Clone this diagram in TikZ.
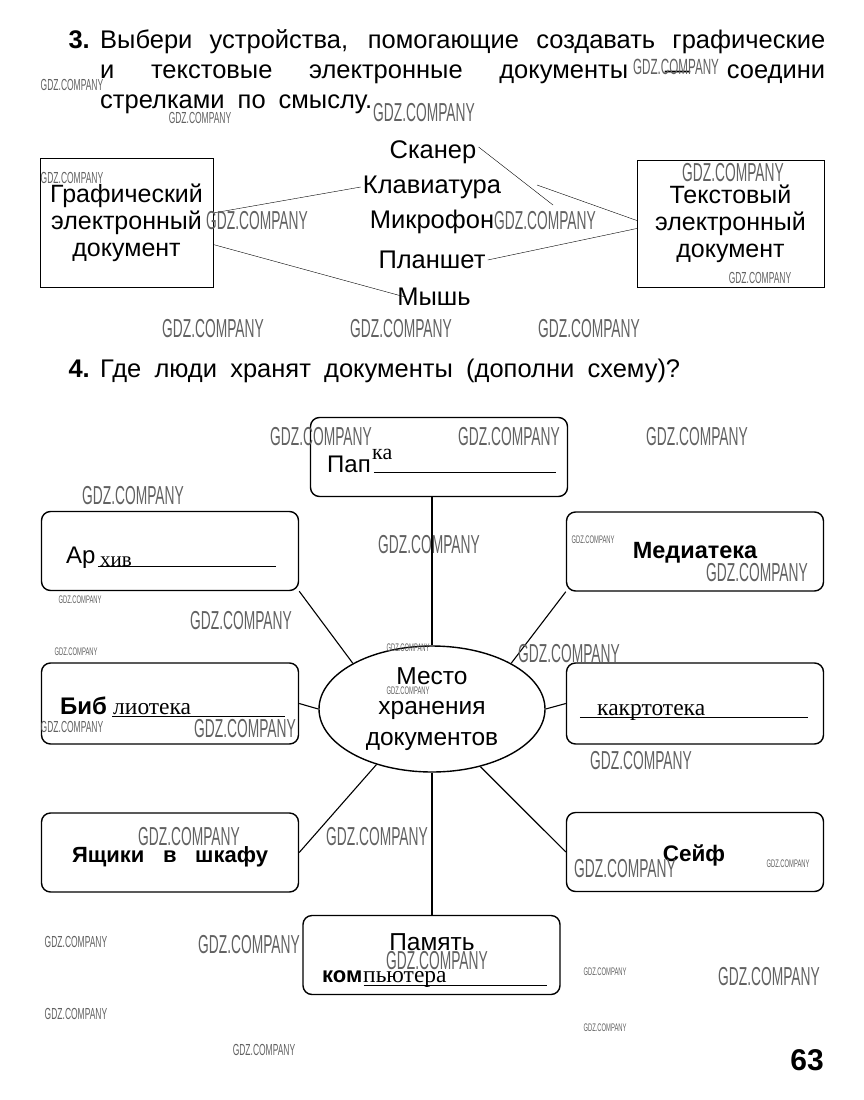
\documentclass[tikz,border=0pt]{standalone}
\usepackage{fontspec}
\setmainfont{Liberation Sans}
\newfontfamily\handfont{Liberation Serif}
\usetikzlibrary{shapes.geometric}

\newcommand{\gdz}{\scalebox{.53}[1]{GDZ.COMPANY}}

\begin{document}
\begin{tikzpicture}[x=1pt, y=-1pt,
  title/.style={font=\fontsize{25.5}{25.5}\selectfont, inner sep=0pt},
  word/.style={font=\fontsize{25.5}{25.5}\selectfont, inner sep=2pt},
  docbox/.style={draw, thin, align=center, font=\fontsize{25}{27}\selectfont},
  place/.style={draw, line width=1.4pt, rounded corners=9pt, minimum width=257pt, minimum height=79pt},
  label/.style={font=\fontsize{24}{24}\selectfont, inner sep=0pt},
  hand/.style={font=\handfont\fontsize{23.5}{23.5}\selectfont, inner sep=0pt},
  wmbig/.style={font=\fontsize{26}{26}\selectfont, text=black!62, inner sep=0pt},
  wmmid/.style={font=\fontsize{22}{22}\selectfont, text=black!62, inner sep=0pt},
  wmsmall/.style={font=\fontsize{16}{16}\selectfont, text=black!62, inner sep=0pt},
  wmtiny/.style={font=\fontsize{11}{11}\selectfont, text=black!62, inner sep=0pt}]
\useasboundingbox (0,0) rectangle (863,1100);

% task 3
\node[title, font=\fontsize{25.5}{25.5}\selectfont\bfseries, anchor=base east] (n3) at (90,48) {3.};
\node[title, anchor=base west] (t1) at (100,48) {\makebox[725pt][s]{Выбери устройства, помогающие создавать графические}};
\node[title, anchor=base west] (t2) at (100,78) {\makebox[725pt][s]{и текстовые электронные документы — соедини}};
\node[title, anchor=base west] (t3) at (100,108) {\makebox[272pt][s]{стрелками по смыслу.}};

\node[docbox, minimum width=173pt, minimum height=129pt] (graf) at (126.5,222.5) {Графический\\электронный\\документ};
\node[docbox, minimum width=187pt, minimum height=127pt] (text) at (730.5,223.5) {Текстовый\\электронный\\документ};

\node[word] (scan) at (433,152) {Сканер};
\node[word] (klav) at (432,187) {Клавиатура};
\node[word] (mikro) at (432,222) {Микрофон};
\node[word] (plan) at (432,260) {Планшет};
\node[word] (mysh) at (434,297) {Мышь};

\coordinate (s1) at (553,205);
\coordinate (s2) at (537,185);
\draw ([yshift=9.5pt]graf.east) -- (klav.west);
\draw ([yshift=-22pt]graf.east) -- ([xshift=10pt]mysh.west);
\draw (plan.east) -- ([yshift=-5pt]text.west);
\draw ([yshift=5pt]scan.east) -- (s1);
\draw ([yshift=3pt]text.west) -- (s2);

% task 4
\node[title, font=\fontsize{25.5}{25.5}\selectfont\bfseries, anchor=base east] (n4) at (90,377) {4.};
\node[title, anchor=base west] (t4) at (100,377) {\makebox[580pt][s]{Где люди хранят документы (дополни схему)?}};

\node[draw, line width=1.4pt, ellipse, minimum width=226pt, minimum height=126pt, inner sep=0pt,
  align=center, font=\fontsize{24.5}{30.5}\selectfont] (mesto) at (432,709) {Место\\хранения\\документов};

\node[place] (papka) at (439,457) {};
\node[place] (arch) at (170,551) {};
\node[place] (media) at (695,551.5) {};
\node[place, minimum height=81pt] (bibl) at (170,703.5) {};
\node[place, minimum height=81pt] (kart) at (695,703.5) {};
\node[place] (yash) at (170,852.5) {};
\node[place] (seif) at (695,852) {};
\node[place] (pamyat) at (431.5,955) {};

\draw[line width=1.1pt] (mesto.north) -- (mesto.north |- papka.south);
\draw[line width=1.1pt] (mesto.150) -- (arch.south east);
\draw[line width=1.1pt] (mesto.30) -- (media.south west);
\draw[line width=1.1pt] (mesto.west) -- (bibl.east);
\draw[line width=1.1pt] (mesto.east) -- (kart.west);
\draw[line width=1.1pt] (mesto.225) -- (yash.east);
\draw[line width=1.1pt] (mesto.310) -- (seif.west);
\draw[line width=1.1pt] (mesto.south) -- (mesto.south |- pamyat.north);

% box texts
\node[label, anchor=base west] (pap) at (327,472) {Пап};
\draw[thick] (pap.base east) ++(3,0) -- ++(182,0);
\node[hand, anchor=base west, font=\handfont\fontsize{22}{22}\selectfont] (ka) at (372,459) {ка};

\node[label, anchor=base west] (ar) at (66,563) {Ар};
\draw[thick] (ar.base east) ++(2,3) -- ++(178,0);
\node[hand, anchor=base west, font=\handfont\fontsize{21}{21}\selectfont] (hiv) at (100,566) {хив};

\node[label, font=\fontsize{23.5}{23.5}\selectfont\bfseries] (med) at (695,553) {Медиатека};

\node[label, font=\fontsize{24}{24}\selectfont\bfseries, anchor=base west] (bib) at (60,714) {Биб};
\draw[thick] (bib.base east) ++(5,2) -- ++(173,0);
\node[hand, anchor=base west] (lio) at (113,714) {лиотека};

\draw[thick] (kart.west) ++(14,13.5) -- ++(228,0);
\node[hand, anchor=base west] (kak) at (597,715) {какртотека};

\node[label, font=\fontsize{22}{22}\selectfont\bfseries] (yas) at (170,857) {\makebox[196pt][s]{Ящики в шкафу}};
\node[label, font=\fontsize{22.5}{22.5}\selectfont\bfseries] (sei) at (694,855) {Сейф};

\node[label, font=\fontsize{24.5}{24.5}\selectfont] (pam) at (432,942) {Память};
\node[label, font=\fontsize{22}{22}\selectfont\bfseries, anchor=base west] (kom) at (322,982) {ком};
\draw[thick] (kom.base east) ++(1,3) -- ++(183,0);
\node[hand, anchor=base west] (pju) at (363,982) {пьютера};

\node[title, font=\fontsize{30}{30}\selectfont\bfseries] (page) at (807,1060) {63};

% watermarks
\node[wmmid] (w1) at (676,67) {\gdz};
\node[wmsmall] (w2) at (72,85) {\gdz};
\node[wmbig] (w3) at (424,113) {\gdz};
\node[wmsmall] (w4) at (200,118) {\gdz};
\node[wmsmall] (w5) at (72,178) {\gdz};
\node[wmbig] (w6) at (257,221) {\gdz};
\node[wmbig] (w7) at (545,221) {\gdz};
\node[wmbig] (w8) at (733,173) {\gdz};
\node[wmsmall] (w9) at (760,278) {\gdz};
\node[wmbig] (w10) at (213,329) {\gdz};
\node[wmbig] (w11) at (401,329) {\gdz};
\node[wmbig] (w12) at (589,329) {\gdz};
\node[wmbig] (w13) at (321,437) {\gdz};
\node[wmbig] (w14) at (509,437) {\gdz};
\node[wmbig] (w15) at (697,437) {\gdz};
\node[wmbig] (w16) at (133,496) {\gdz};
\node[wmbig] (w17) at (429,545) {\gdz};
\node[wmtiny] (w18) at (593,540) {\gdz};
\node[wmbig] (w19) at (757,573) {\gdz};
\node[wmtiny] (w20) at (80,600) {\gdz};
\node[wmbig] (w21) at (241,621) {\gdz};
\node[wmtiny] (w22) at (408,648) {\gdz};
\node[wmbig] (w23) at (569,654) {\gdz};
\node[wmtiny] (w24) at (76,652) {\gdz};
\node[wmtiny] (w25) at (408,691) {\gdz};
\node[wmsmall] (w26) at (72,727) {\gdz};
\node[wmbig] (w27) at (245,729) {\gdz};
\node[wmbig] (w28) at (641,761) {\gdz};
\node[wmbig] (w29) at (189,837) {\gdz};
\node[wmbig] (w30) at (377,837) {\gdz};
\node[wmbig] (w31) at (625,869) {\gdz};
\node[wmtiny] (w32) at (788,864) {\gdz};
\node[wmsmall] (w33) at (76,942) {\gdz};
\node[wmbig] (w34) at (249,945) {\gdz};
\node[wmbig] (w35) at (437,961) {\gdz};
\node[wmtiny] (w36) at (605,972) {\gdz};
\node[wmbig] (w37) at (769,977) {\gdz};
\node[wmsmall] (w38) at (76,1014) {\gdz};
\node[wmtiny] (w39) at (605,1028) {\gdz};
\node[wmsmall] (w40) at (264,1050) {\gdz};
\end{tikzpicture}
\end{document}
